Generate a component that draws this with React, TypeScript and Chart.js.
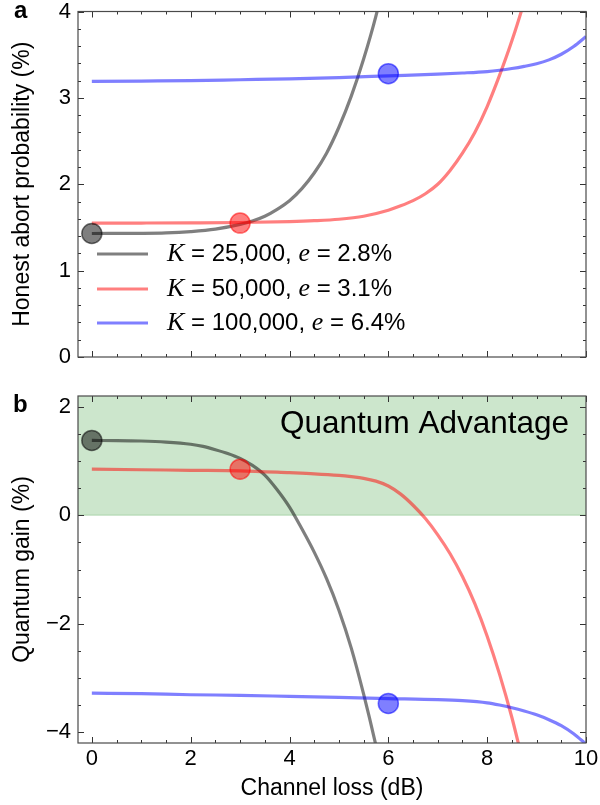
import React, { useEffect, useRef } from "react";
import { Chart, registerables } from "chart.js";
Chart.register(...registerables);

// ---------------- data ----------------
const xTickValues = [0, 2, 4, 6, 8, 10];
const yTickValuesA = [0, 1, 2, 3, 4];
const yTickValuesB = [-4, -2, 0, 2];

// panel a: honest abort probability (%)
const grayLossA = [0, 1, 1.5, 2, 2.5, 3, 3.25, 3.5, 3.75, 4, 4.25, 4.5, 4.75, 5, 5.25, 5.5, 5.75, 6];
const grayAbort = [1.43, 1.432, 1.437, 1.452, 1.48, 1.535, 1.575, 1.63, 1.71, 1.81, 1.95, 2.13, 2.36, 2.66, 3.02, 3.45, 3.95, 4.55];
const redLossA = [0, 1, 2, 3, 4, 4.5, 5, 5.5, 6, 6.25, 6.5, 6.75, 7, 7.25, 7.5, 7.75, 8, 8.25, 8.5, 8.75, 9];
const redAbort = [1.55, 1.551, 1.553, 1.557, 1.568, 1.578, 1.595, 1.63, 1.7, 1.75, 1.81, 1.89, 2.0, 2.16, 2.36, 2.6, 2.9, 3.26, 3.66, 4.12, 4.7];
const blueLossA = [0, 1, 2, 3, 4, 5, 6, 7, 7.5, 8, 8.25, 8.5, 8.75, 9, 9.25, 9.5, 9.75, 10];
const blueAbort = [3.19, 3.195, 3.2, 3.21, 3.22, 3.235, 3.255, 3.275, 3.288, 3.305, 3.32, 3.34, 3.365, 3.395, 3.44, 3.505, 3.595, 3.71];

// panel b: quantum gain (%)
const grayLossB = [0, 0.5, 1, 1.5, 2, 2.25, 2.5, 2.75, 3, 3.25, 3.5, 3.75, 4, 4.25, 4.5, 4.75, 5, 5.25, 5.5, 5.75, 6];
const grayGain = [1.38, 1.378, 1.37, 1.35, 1.31, 1.27, 1.21, 1.14, 1.05, 0.92, 0.74, 0.47, 0.15, -0.25, -0.68, -1.17, -1.75, -2.45, -3.3, -4.25, -5.3];
const redLossB = [0, 1, 2, 3, 4, 4.5, 5, 5.25, 5.5, 5.75, 6, 6.25, 6.5, 6.75, 7, 7.25, 7.5, 7.75, 8, 8.25, 8.5, 8.75];
const redGain = [0.85, 0.84, 0.83, 0.82, 0.785, 0.765, 0.735, 0.712, 0.682, 0.63, 0.54, 0.39, 0.185, -0.06, -0.36, -0.71, -1.13, -1.63, -2.23, -2.93, -3.73, -4.65];
const blueLossB = [0, 1, 2, 3, 4, 5, 6, 7, 7.5, 8, 8.25, 8.5, 8.75, 9, 9.25, 9.5, 9.75, 10];
const blueGain = [-3.28, -3.29, -3.31, -3.32, -3.34, -3.36, -3.38, -3.4, -3.42, -3.46, -3.5, -3.55, -3.61, -3.68, -3.77, -3.88, -4.03, -4.22];

// highlighted operating points
const markerLoss = [0, 3, 6];
const markerAbort = [1.43, 1.55, 3.28];
const markerGain = [1.38, 0.85, -3.47];

const seriesK = ["25,000", "50,000", "100,000"];
const seriesE = ["2.8%", "3.1%", "6.4%"];
const regionLabel = "Quantum Advantage";

// ---------------- styles ----------------
const SANS = '"Liberation Sans", Arial, Helvetica, sans-serif';
const SERIF = '"Liberation Serif", "DejaVu Serif", serif';
const lineColors = ["rgba(0,0,0,0.5)", "rgba(255,0,0,0.5)", "rgba(0,0,255,0.5)"];
const markerFill = ["rgba(0,0,0,0.5)", "rgba(255,0,0,0.5)", "rgba(0,0,255,0.5)"];
const markerEdge = ["rgba(0,0,0,0.55)", "rgba(255,0,0,0.55)", "rgba(0,0,255,0.55)"];

const pts = (xs: number[], ys: number[]) => xs.map((x, i) => ({ x, y: ys[i] }));

const lineDS = (xs: number[], ys: number[], color: string) => ({
  type: "line",
  data: pts(xs, ys),
  borderColor: color,
  borderWidth: 3.2,
  pointRadius: 0,
  cubicInterpolationMode: "monotone",
  fill: false,
});

const markerDS = (ys: number[]) => ({
  type: "line",
  data: pts(markerLoss, ys),
  showLine: false,
  pointRadius: 10,
  pointBorderWidth: 1.5,
  pointBackgroundColor: markerFill,
  pointBorderColor: markerEdge,
});

const fmt = (v: number) => (v < 0 ? "\u2212" + String(-v) : String(v));

function frameTicksPlugin(xMajor: number[], xMinorStep: number, yMajor: number[], yMinorStep: number) {
  return {
    id: "frameTicks",
    afterDatasetsDraw(chart: any) {
      const { ctx, chartArea } = chart;
      const { left, right, top, bottom } = chartArea;
      const xs = chart.scales.x;
      const ys = chart.scales.y;
      ctx.save();
      ctx.strokeStyle = "#333";
      ctx.lineWidth = 1;
      ctx.beginPath();
      const isMajor = (arr: number[], v: number) => arr.some((m) => Math.abs(m - v) < 1e-6);
      for (let i = Math.ceil(xs.min / xMinorStep - 1e-9); i * xMinorStep <= xs.max + 1e-9; i++) {
        const v = i * xMinorStep;
        const len = isMajor(xMajor, v) ? 6 : 3;
        const px = Math.round(xs.getPixelForValue(v)) + 0.5;
        ctx.moveTo(px, bottom);
        ctx.lineTo(px, bottom - len);
        ctx.moveTo(px, top);
        ctx.lineTo(px, top + len);
      }
      for (let i = Math.ceil(ys.min / yMinorStep - 1e-9); i * yMinorStep <= ys.max + 1e-9; i++) {
        const v = i * yMinorStep;
        const len = isMajor(yMajor, v) ? 6 : 3;
        const py = Math.round(ys.getPixelForValue(v)) + 0.5;
        ctx.moveTo(left, py);
        ctx.lineTo(left + len, py);
        ctx.moveTo(right, py);
        ctx.lineTo(right - len, py);
      }
      ctx.stroke();
      ctx.strokeStyle = "#4a4a4a";
      ctx.lineWidth = 1.2;
      ctx.strokeRect(left, top, right - left, bottom - top);
      ctx.restore();
    },
  };
}

function panelLabelPlugin(label: string, x: number, y: number) {
  return {
    id: "panelLabel",
    afterDraw(chart: any) {
      const ctx = chart.ctx;
      ctx.save();
      ctx.fillStyle = "#000";
      ctx.font = `bold 24px ${SANS}`;
      ctx.textAlign = "left";
      ctx.textBaseline = "alphabetic";
      ctx.fillText(label, x, y);
      ctx.restore();
    },
  };
}

const legendPlugin = {
  id: "mathLegend",
  afterDraw(chart: any) {
    const ctx = chart.ctx;
    const rows = [254, 289, 323];
    ctx.save();
    ctx.textBaseline = "middle";
    ctx.textAlign = "left";
    seriesK.forEach((k, i) => {
      const y = rows[i];
      ctx.strokeStyle = lineColors[i];
      ctx.lineWidth = 3.2;
      ctx.beginPath();
      ctx.moveTo(97, y);
      ctx.lineTo(148, y);
      ctx.stroke();
      ctx.fillStyle = "#000";
      let x = 167;
      const parts: [string, string][] = [
        [`italic 26px ${SERIF}`, "K"],
        [`24px ${SANS}`, ` = ${k}, `],
        [`italic 26px ${SERIF}`, "e"],
        [`24px ${SANS}`, ` = ${seriesE[i]}`],
      ];
      parts.forEach(([font, txt]) => {
        ctx.font = font;
        ctx.fillText(txt, x, y);
        x += ctx.measureText(txt).width;
      });
    });
    ctx.restore();
  },
};

const advantagePlugin = {
  id: "advantage",
  beforeDatasetsDraw(chart: any) {
    const { ctx, chartArea } = chart;
    const { left, right, top } = chartArea;
    const y0 = chart.scales.y.getPixelForValue(0);
    ctx.save();
    ctx.fillStyle = "rgba(0,128,0,0.2)";
    ctx.fillRect(left, top, right - left, y0 - top);
    ctx.strokeStyle = "rgba(0,128,0,0.15)";
    ctx.lineWidth = 1.5;
    ctx.beginPath();
    ctx.moveTo(left, y0);
    ctx.lineTo(right, y0);
    ctx.stroke();
    ctx.fillStyle = "#000";
    ctx.font = `31.5px ${SANS}`;
    ctx.textAlign = "right";
    ctx.textBaseline = "alphabetic";
    ctx.fillText(regionLabel, right - 17, top + 37);
    ctx.restore();
  },
};

function makeOptions(opts: {
  yMin: number; yMax: number; yTicks: number[]; yTitle: string;
  showX: boolean; xAxisHeight: number; padTop: number;
}) {
  return {
    animation: false,
    responsive: false,
    events: [],
    layout: { padding: { top: opts.padTop, right: 14, left: 0, bottom: 0 } },
    plugins: { legend: { display: false }, tooltip: { enabled: false }, title: { display: false } },
    scales: {
      x: {
        type: "linear",
        min: -0.28,
        max: 10,
        grid: { display: false, drawTicks: false },
        border: { display: false },
        afterBuildTicks: (s: any) => { s.ticks = xTickValues.map((v) => ({ value: v })); },
        afterFit: (s: any) => {
          s.height = opts.xAxisHeight;
          s.paddingLeft = 0; s.paddingRight = 0; s.paddingTop = 0; s.paddingBottom = 0;
        },
        ticks: {
          display: opts.showX,
          padding: 3,
          maxRotation: 0,
          autoSkip: false,
          color: "#000",
          font: { size: 22, family: SANS },
          callback: (v: any) => fmt(Number(v)),
        },
        title: {
          display: opts.showX,
          text: "Channel loss (dB)",
          color: "#000",
          font: { size: 23, family: SANS },
          padding: { top: 0, bottom: 3 },
        },
      },
      y: {
        type: "linear",
        min: opts.yMin,
        max: opts.yMax,
        grid: { display: false, drawTicks: false },
        border: { display: false },
        afterBuildTicks: (s: any) => { s.ticks = opts.yTicks.map((v) => ({ value: v })); },
        afterFit: (s: any) => {
          s.width = 78;
          s.paddingLeft = 0; s.paddingRight = 0; s.paddingTop = 0; s.paddingBottom = 0;
        },
        ticks: {
          padding: 7,
          autoSkip: false,
          color: "#000",
          font: { size: 22, family: SANS },
          callback: (v: any) => fmt(Number(v)),
        },
        title: {
          display: true,
          text: opts.yTitle,
          color: "#000",
          font: { size: 23, family: SANS },
          padding: { top: 9, bottom: 0 },
        },
      },
    },
  };
}

function PanelA() {
  const ref = useRef<HTMLCanvasElement>(null);
  useEffect(() => {
    const chart = new Chart(ref.current as HTMLCanvasElement, {
      type: "line",
      data: {
        datasets: [
          markerDS(markerAbort),
          lineDS(blueLossA, blueAbort, lineColors[2]),
          lineDS(redLossA, redAbort, lineColors[1]),
          lineDS(grayLossA, grayAbort, lineColors[0]),
        ] as any,
      },
      options: makeOptions({
        yMin: 0, yMax: 4, yTicks: yTickValuesA, yTitle: "Honest abort probability (%)",
        showX: false, xAxisHeight: 23, padTop: 11,
      }) as any,
      plugins: [frameTicksPlugin(xTickValues, 0.5, yTickValuesA, 0.2), legendPlugin, panelLabelPlugin("a", 14, 18)],
    });
    return () => chart.destroy();
  }, []);
  return <canvas ref={ref} width={600} height={380} style={{ position: "absolute", left: 0, top: 0, width: 600, height: 380 }} />;
}

function PanelB() {
  const ref = useRef<HTMLCanvasElement>(null);
  useEffect(() => {
    const chart = new Chart(ref.current as HTMLCanvasElement, {
      type: "line",
      data: {
        datasets: [
          markerDS(markerGain),
          lineDS(blueLossB, blueGain, lineColors[2]),
          lineDS(redLossB, redGain, lineColors[1]),
          lineDS(grayLossB, grayGain, lineColors[0]),
        ] as any,
      },
      options: makeOptions({
        yMin: -4.2, yMax: 2.2, yTicks: yTickValuesB, yTitle: "Quantum gain (%)",
        showX: true, xAxisHeight: 62, padTop: 16,
      }) as any,
      plugins: [advantagePlugin, frameTicksPlugin(xTickValues, 0.5, yTickValuesB, 0.5), panelLabelPlugin("b", 13, 32)],
    });
    return () => chart.destroy();
  }, []);
  return <canvas ref={ref} width={600} height={425} style={{ position: "absolute", left: 0, top: 380, width: 600, height: 425 }} />;
}

export default function App() {
  return (
    <div style={{ position: "absolute", left: 0, top: 0, width: 600, height: 805, background: "#fff", overflow: "hidden" }}>
      <PanelA />
      <PanelB />
    </div>
  );
}
